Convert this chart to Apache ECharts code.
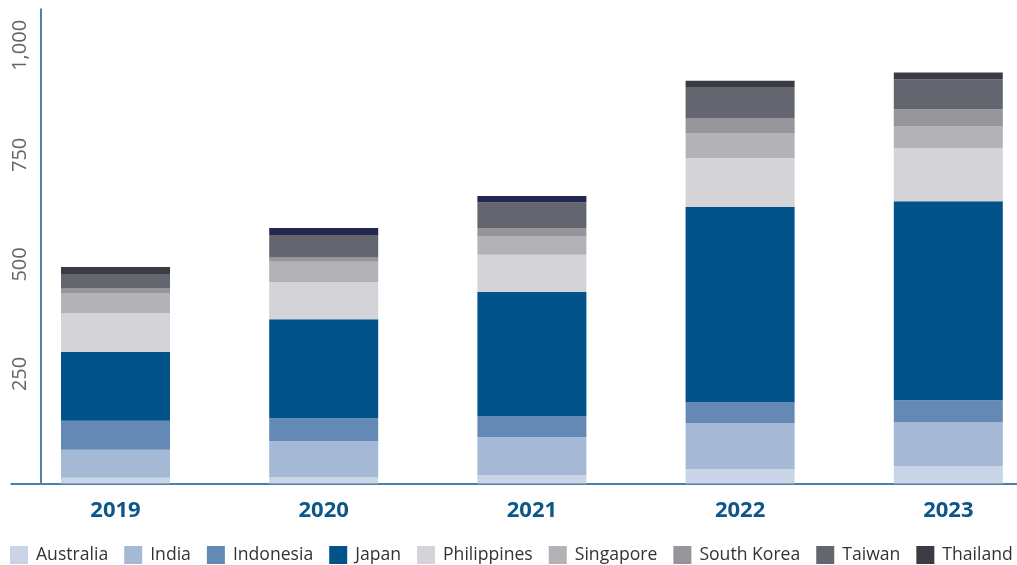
<!DOCTYPE html>
<html>
<head>
<meta charset="utf-8">
<title>Stacked bars by market, 2019–2023</title>
<script src="https://cdn.jsdelivr.net/npm/echarts@6/dist/echarts.min.js"></script>
<style>
  html, body { margin: 0; padding: 0; background: #ffffff; }
  #chart { width: 1017px; height: 565px; }
</style>
</head>
<body>
<div id="chart"></div>
<script>
// Years on the category axis
const years = ['2019', '2020', '2021', '2022', '2023'];

// Values per market, one entry per year (stack order bottom to top)
const australia   = [13, 15, 19, 33, 40];
const india       = [64, 82, 87, 105, 100];
const indonesia   = [66, 52, 48, 48, 50];
const japan       = [157, 226, 283, 445, 454];
const philippines = [89, 85, 85, 112, 121];
const singapore   = [46, 46, 43, 57, 50];
const southKorea  = [11, 11, 18, 34, 39];
const taiwan      = [32, 50, 59, 71, 68];
const thailand    = [16, 16, 14, 14, 16];

// Value-axis tick labels
const yTicks = [250, 500, 750, 1000];

const seriesDefs = [
  { name: 'Australia',   data: australia,   color: '#c9d4e6' },
  { name: 'India',       data: india,       color: '#a5b9d7' },
  { name: 'Indonesia',   data: indonesia,   color: '#6389b4' },
  { name: 'Japan',       data: japan,       color: '#02538a' },
  { name: 'Philippines', data: philippines, color: '#d3d3d8' },
  { name: 'Singapore',   data: singapore,   color: '#b2b2b7' },
  { name: 'South Korea', data: southKorea,  color: '#95959a' },
  { name: 'Taiwan',      data: taiwan,      color: '#63666f' },
  { name: 'Thailand',    data: thailand,    color: '#3b3b44' }
];

// Thailand segments for 2020 and 2021 are drawn in a deep navy
const thailandAlt = { '2020': '#242750', '2021': '#242750' };

const chart = echarts.init(document.getElementById('chart'), null, { renderer: 'canvas' });

const series = seriesDefs.map(function (s) {
  return {
    name: s.name,
    type: 'bar',
    stack: 'total',
    barWidth: 109,
    itemStyle: { color: s.color },
    emphasis: { disabled: true },
    data: s.data.map(function (v, i) {
      if (s.name === 'Thailand' && thailandAlt[years[i]]) {
        return { value: v, itemStyle: { color: thailandAlt[years[i]] } };
      }
      return v;
    })
  };
});

chart.setOption({
  animation: false,
  backgroundColor: '#ffffff',
  textStyle: { fontFamily: 'Open Sans' },
  // the category band runs past the right edge of the canvas
  grid: {
    left: 11.4, width: 1041, top: 9, height: 474.5,
    containLabel: false, outerBoundsMode: 'none'
  },
  legend: {
    left: 10,
    bottom: 1,
    padding: 0,
    itemWidth: 18,
    itemHeight: 18,
    itemGap: 16,
    icon: 'rect',
    selectedMode: false,
    textStyle: { fontFamily: 'Open Sans', fontSize: 17.6, color: '#333333', padding: [0, 0, 0, 3] },
    data: seriesDefs.map(function (s) { return s.name; })
  },
  xAxis: {
    type: 'category',
    data: years,
    axisLine: { show: true, lineStyle: { color: '#4b80aa', width: 2 } },
    axisTick: { show: false },
    axisLabel: {
      margin: 16,
      fontFamily: 'Open Sans',
      fontSize: 22,
      fontWeight: 'bold',
      color: '#0d568a'
    }
  },
  yAxis: {
    type: 'value',
    min: 0,
    max: 1083,
    interval: 250,
    offset: -29.6,
    splitLine: { show: false },
    axisTick: { show: false },
    axisLine: { show: true, lineStyle: { color: '#1a5788', width: 1.5 } },
    axisLabel: {
      rotate: 90,
      margin: 11,
      fontFamily: 'Open Sans',
      fontSize: 20,
      color: '#666666',
      formatter: function (v) {
        return yTicks.indexOf(v) >= 0 ? v.toLocaleString('en-US') : '';
      }
    }
  },
  series: series
});
</script>
</body>
</html>
